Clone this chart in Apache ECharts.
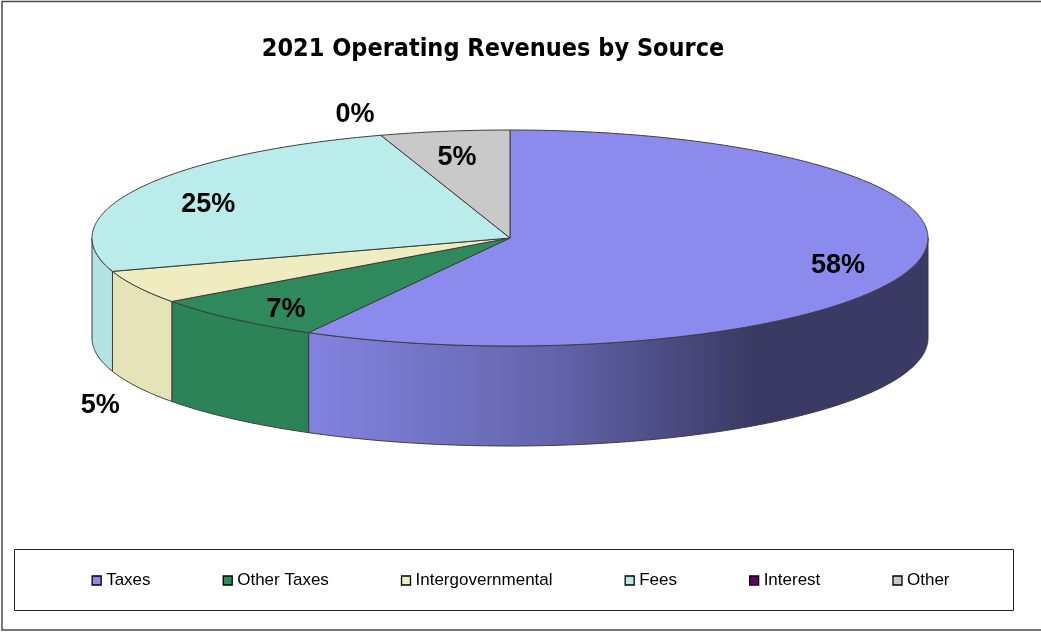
<!DOCTYPE html>
<html>
<head>
<meta charset="utf-8">
<title>2021 Operating Revenues by Source</title>
<script src="https://cdn.jsdelivr.net/npm/echarts@6/dist/echarts.min.js"></script>
<style>
  html, body { margin: 0; padding: 0; background: #ffffff; }
  #chart { width: 1041px; height: 633px; }
</style>
</head>
<body>
<div id="chart"></div>
<script>
// Revenue sources and their share of 2021 operating revenues (percent)
const categories = ['Taxes', 'Other Taxes', 'Intergovernmental', 'Fees', 'Interest', 'Other'];
const shares = [58, 7, 5, 25, 0, 5];
const sliceColors = ['#8B8BEE', '#2E8A5C', '#EFEDC0', '#BAECEC', '#660066', '#C9C9C9'];
// slices whose percentage sits outside the disc
const outsideLabels = ['Intergovernmental', 'Interest'];

// tilted disc: centre, radii of the top ellipse, and wall depth
const disc = { cx: 510, cy: 238, rx: 418, ry: 108, depth: 100 };
const edgeColor = '#3c3c3c';
const labelFont = { fontFamily: 'Arial, "Liberation Sans", sans-serif', fontWeight: 'bold', fontSize: 27 };

const total = shares.reduce((a, b) => a + b, 0);
const startFrac = shares.map((_, i) => shares.slice(0, i).reduce((a, b) => a + b, 0) / total);
const TAU = Math.PI * 2;

// angle measured clockwise from 12 o'clock on the ellipse
function pt(t, dy) {
  return [disc.cx + disc.rx * Math.sin(t), disc.cy - disc.ry * Math.cos(t) + (dy || 0)];
}
function arc(a, b, dy) {
  const n = Math.max(2, Math.ceil((b - a) / 0.01));
  const out = [];
  for (let k = 0; k <= n; k++) out.push(pt(a + (b - a) * k / n, dy));
  return out;
}
function shade(hex, f) {
  const n = parseInt(hex.slice(1), 16);
  const r = Math.round(((n >> 16) & 255) * f);
  const g = Math.round(((n >> 8) & 255) * f);
  const b = Math.round((n & 255) * f);
  return 'rgb(' + r + ',' + g + ',' + b + ')';
}
// side walls darken from left to right
function sideFill(color) {
  const x0 = disc.cx - disc.rx, x1 = disc.cx + disc.rx;
  return new echarts.graphic.LinearGradient(x0, 0, x1, 0, [
    { offset: 0, color: shade(color, 0.96) },
    { offset: 0.25, color: shade(color, 0.95) },
    { offset: 0.55, color: shade(color, 0.72) },
    { offset: 0.79, color: shade(color, 0.42) },
    { offset: 1, color: shade(color, 0.42) }
  ], true);
}

function renderSlice(i, params, api) {
  const value = api.value(0);
  const a0 = startFrac[i] * TAU;
  const a1 = a0 + value / total * TAU;
  const color = sliceColors[i];
  const children = [];

  // front wall (visible between 3 and 9 o'clock, through 6 o'clock)
  const sa = Math.max(a0, Math.PI / 2);
  const sb = Math.min(a1, Math.PI * 1.5);
  if (sb > sa) {
    children.push({
      type: 'polygon',
      shape: { points: arc(sa, sb, 0).concat(arc(sa, sb, disc.depth).reverse()) },
      style: { fill: sideFill(color), stroke: edgeColor, lineWidth: 1 }
    });
  }
  // top face
  if (a1 > a0) {
    children.push({
      type: 'polygon',
      shape: { points: [[disc.cx, disc.cy]].concat(arc(a0, a1, 0)) },
      style: { fill: color, stroke: edgeColor, lineWidth: 1 }
    });
  }
  // percentage label
  const mid = (a0 + a1) / 2;
  let lx, ly;
  if (outsideLabels.indexOf(categories[i]) >= 0) {
    const front = Math.cos(mid) < 0;
    const f = front ? 1.1 : 1.2;
    lx = disc.cx + disc.rx * f * Math.sin(mid);
    ly = disc.cy - disc.ry * f * Math.cos(mid) + (front ? disc.depth + 14 : 0);
  } else {
    const f = 0.81;
    lx = disc.cx + disc.rx * f * Math.sin(mid);
    ly = disc.cy - disc.ry * f * Math.cos(mid) + 6;
  }
  children.push({
    type: 'text',
    z2: 10,
    style: Object.assign({
      text: Math.round(value / total * 100) + '%',
      x: lx, y: ly, align: 'center', verticalAlign: 'middle', fill: '#000000'
    }, labelFont)
  });
  return { type: 'group', children: children };
}

const chart = echarts.init(document.getElementById('chart'), null, { renderer: 'canvas' });

chart.setOption({
  animation: false,
  backgroundColor: '#ffffff',
  title: {
    text: '2021 Operating Revenues by Source',
    left: 488,
    top: 32,
    textAlign: 'center',
    textStyle: {
      fontFamily: '"DejaVu Sans Condensed", "Liberation Sans Narrow", Arial, sans-serif',
      fontWeight: 'bold',
      fontSize: 25,
      color: '#000000'
    }
  },
  legend: {
    data: categories,
    left: 'center',
    top: 567,
    icon: 'rect',
    itemWidth: 9,
    itemHeight: 9,
    itemGap: 72,
    itemStyle: { borderColor: '#000000', borderWidth: 1.3 },
    textStyle: { fontFamily: 'Arial, "Liberation Sans", sans-serif', fontSize: 17, color: '#000000' }
  },
  graphic: [
    {
      type: 'rect',
      shape: { x: 2, y: 1.5, width: 1100, height: 628.5 },
      style: { fill: null, stroke: '#4a4a4a', lineWidth: 1.5 }
    },
    {
      type: 'rect',
      shape: { x: 14.5, y: 549.5, width: 999, height: 61 },
      style: { fill: null, stroke: '#222222', lineWidth: 1 }
    }
  ],
  series: categories.map((name, i) => ({
    type: 'custom',
    name: name,
    coordinateSystem: 'none',
    itemStyle: { color: sliceColors[i] },
    data: [shares[i]],
    renderItem: (params, api) => renderSlice(i, params, api)
  }))
});
</script>
</body>
</html>
